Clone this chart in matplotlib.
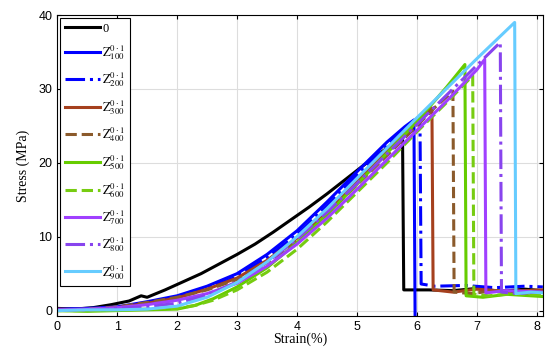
import matplotlib
matplotlib.use("Agg")
import matplotlib.pyplot as plt

# strain (%) / stress (MPa)
labels = ["0", "100", "200", "300", "400", "500", "600", "700", "800", "900"]
colors = ["black", "#0000FF", "#0000FF", "#A5401E", "#8B5A2B",
          "#66CC00", "#77CC11", "#A040FF", "#8844EE", "#66CCFF"]
styles = ["-", "-", "-.", "-", "--", "-", "--", "-", "-.", "-"]

x0 = [0, 0.3, 0.6, 0.9, 1.2, 1.4, 1.5, 1.8, 2.1, 2.4, 2.7, 3.0, 3.3, 3.6, 3.9,
      4.2, 4.5, 4.8, 5.1, 5.4, 5.6, 5.76, 5.78, 6.2, 6.6, 7.0, 7.4, 7.8, 8.1]
y0 = [0.3, 0.2, 0.4, 0.8, 1.3, 2.0, 1.8, 2.8, 3.9, 5.0, 6.3, 7.6, 9.0, 10.6, 12.3,
      14.0, 15.8, 17.7, 19.6, 21.4, 22.6, 23.2, 2.8, 2.8, 2.7, 3.0, 2.6, 2.9, 2.7]

x100 = [0, 0.5, 1.0, 1.5, 2.0, 2.5, 3.0, 3.5, 4.0, 4.5, 5.0, 5.5, 5.8, 5.95, 5.97]
y100 = [0.2, 0.3, 0.5, 1.2, 2.0, 3.3, 5.0, 7.6, 10.8, 14.7, 18.8, 22.8, 24.9, 25.8, -2.0]

x200 = [0, 0.5, 1.0, 1.5, 2.0, 2.5, 3.0, 3.5, 4.0, 4.5, 5.0, 5.5, 6.0, 6.05, 6.07,
        6.3, 6.8, 7.3, 7.8, 8.1]
y200 = [0.1, 0.2, 0.4, 1.0, 1.8, 3.0, 4.6, 7.2, 10.3, 14.2, 18.3, 22.3, 26.0, 26.3, 3.6,
        3.3, 3.4, 3.1, 3.3, 3.2]

x300 = [0, 0.5, 1.0, 1.5, 2.0, 2.5, 3.0, 3.5, 4.0, 4.5, 5.0, 5.5, 6.0, 6.25, 6.27,
        6.6, 7.0, 7.5, 8.1]
y300 = [0.2, 0.1, 0.4, 1.0, 1.7, 2.9, 4.4, 6.8, 9.8, 13.5, 17.6, 21.6, 25.5, 27.4, 2.8,
        2.5, 2.9, 2.6, 2.8]

x400 = [0, 0.5, 1.0, 1.5, 2.0, 2.5, 3.0, 3.5, 4.0, 4.5, 5.0, 5.5, 6.0, 6.3, 6.6, 6.62,
        6.9, 7.3, 7.8, 8.1]
y400 = [0.1, 0.2, 0.5, 1.1, 1.8, 2.8, 4.2, 6.5, 9.4, 13.0, 17.0, 21.0, 25.0, 27.5, 29.7, 2.5,
        2.3, 2.7, 2.4, 2.6]

x500 = [0, 0.5, 1.0, 1.5, 2.0, 2.3, 2.6, 3.0, 3.5, 4.0, 4.5, 5.0, 5.5, 6.0, 6.5, 6.8,
        6.82, 7.1, 7.5, 8.1]
y500 = [0.0, -0.1, 0.0, 0.1, 0.2, 0.7, 1.6, 3.2, 5.8, 9.2, 13.0, 17.1, 21.3, 25.6, 30.3, 33.3,
        2.0, 1.8, 2.2, 1.9]

x600 = [0, 0.5, 1.0, 1.5, 2.0, 2.3, 2.6, 3.0, 3.5, 4.0, 4.5, 5.0, 5.5, 6.0, 6.5, 6.93,
        6.95, 7.2, 7.6, 8.1]
y600 = [0.0, 0.0, 0.1, 0.2, 0.3, 0.7, 1.4, 2.8, 5.2, 8.3, 12.0, 16.0, 20.0, 24.2, 28.2, 31.8,
        2.2, 2.0, 2.3, 2.1]

x700 = [0, 0.5, 1.0, 1.5, 2.0, 2.5, 3.0, 3.5, 4.0, 4.5, 5.0, 5.5, 6.0, 6.5, 7.0, 7.13,
        7.15, 7.5, 8.1]
y700 = [0.1, 0.2, 0.4, 0.8, 1.4, 2.3, 3.7, 6.0, 9.0, 12.5, 16.4, 20.4, 24.4, 28.4, 32.6, 34.0,
        2.4, 2.7, 2.5]

x800 = [0, 0.5, 1.0, 1.5, 2.0, 2.5, 3.0, 3.5, 4.0, 4.5, 5.0, 5.5, 6.0, 6.5, 7.0, 7.39,
        7.41, 7.7, 8.1]
y800 = [0.1, 0.1, 0.3, 0.5, 1.0, 2.1, 3.9, 6.5, 9.7, 13.3, 17.2, 21.2, 25.2, 29.2, 33.2, 36.3,
        2.5, 2.3, 2.6]

x900 = [0, 0.5, 1.0, 1.5, 2.0, 2.5, 3.0, 3.5, 4.0, 4.5, 5.0, 5.5, 6.0, 6.5, 7.0, 7.63,
        7.65, 7.9, 8.1]
y900 = [0.0, 0.1, 0.1, 0.2, 0.6, 1.8, 3.8, 6.6, 10.0, 13.8, 17.9, 22.0, 26.1, 30.1, 34.1, 39.0,
        2.3, 2.5, 2.4]

xs = [x0, x100, x200, x300, x400, x500, x600, x700, x800, x900]
ys = [y0, y100, y200, y300, y400, y500, y600, y700, y800, y900]

plt.rcParams["mathtext.fontset"] = "stix"
plt.rcParams["font.family"] = ["Liberation Sans", "DejaVu Sans"]

fig = plt.figure(figsize=(5.5, 3.58), dpi=100)
ax = fig.add_axes([0.104, 0.118, 0.883, 0.84])

for x, y, c, ls, lab in zip(xs, ys, colors, styles, labels):
    name = lab if lab == "0" else r"$\mathrm{Z}^{0\cdot1}_{%s}$" % lab
    ax.plot(x, y, color=c, linestyle=ls, linewidth=2.2, label=name)

ax.set_xlim(0, 8.1)
ax.set_ylim(-0.7, 40)
ax.set_xticks(range(0, 9))
ax.set_yticks([0, 10, 20, 30, 40])
ax.grid(True, color="#DDDDDD", linewidth=0.8)
ax.set_axisbelow(True)
ax.tick_params(direction="in", top=True, right=True, labelsize=9, length=3)
for s in ax.spines.values():
    s.set_linewidth(0.8)

ax.set_xlabel("Strain(%)", family="Liberation Serif", fontsize=10, labelpad=0)
ax.set_ylabel("Stress (MPa)", family="Liberation Serif", fontsize=10, labelpad=6)

leg = ax.legend(loc="upper left", prop={"family": "Liberation Serif", "size": 9},
                handlelength=2.8, handletextpad=0.2, labelspacing=0.7,
                borderaxespad=0.2, fancybox=False, framealpha=1)
leg.get_frame().set_edgecolor("black")
leg.get_frame().set_linewidth(0.8)

fig.savefig("out.png", dpi=100)
